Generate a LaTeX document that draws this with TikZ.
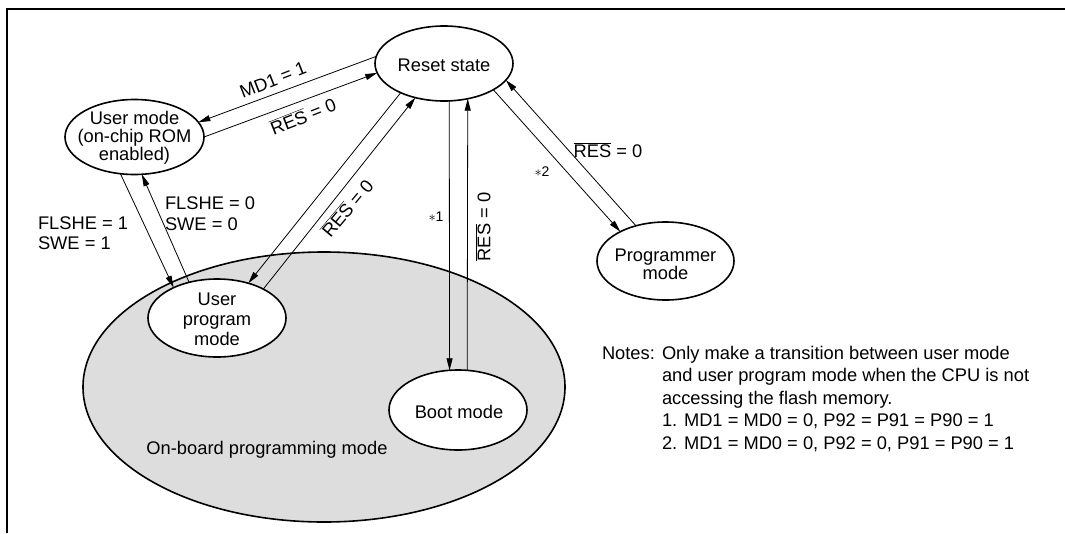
\documentclass[tikz,border=0pt]{standalone}
\usepackage{fontspec}
\setmainfont{Liberation Sans}
\usetikzlibrary{shapes.geometric,arrows.meta}
\definecolor{boardgray}{RGB}{221,221,221}
\newcommand{\resbar}{$\overline{\mbox{RES}}$}
\begin{document}
\begin{tikzpicture}[x=1pt,y=-1pt,
  every node/.style={inner sep=0pt, outer sep=0pt},
  txt/.style={font=\fontsize{18.3}{17}\selectfont, align=center},
  small/.style={font=\fontsize{14}{14}\selectfont},
  state/.style={ellipse, draw, line width=1.6pt, fill=white},
  arr/.style={line width=0.8pt, -{Triangle[length=12pt,width=6pt]}},
]
\useasboundingbox (0,0) rectangle (1065,533);
\draw[line width=2pt] (6.7,533) -- (6.7,9) -- (1065,9);

% on-board programming region
\node[ellipse, draw, line width=1.6pt, fill=boardgray, minimum width=482pt, minimum height=270pt] (board) at (324,387) {};
\node[txt] (boardlbl) at (267,450) {On-board programming mode};

% states
\node[state, minimum width=138pt, minimum height=75pt] (reset) at (444,63.5) {};
\node[txt] (resettxt) at (444,65) {Reset state};
\node[state, minimum width=139pt, minimum height=75pt] (umode) at (134.5,137) {};
\node[txt, font=\fontsize{18.3}{18}\selectfont] (umodetxt) at (134.5,138) {User mode\\(on-chip ROM\\enabled)};
\node[state, minimum width=138pt, minimum height=78pt] (uprog) at (217,318) {};
\node[txt, font=\fontsize{18.3}{20}\selectfont] (uprogtxt) at (217,319) {User\\program\\mode};
\node[state, minimum width=138pt, minimum height=80pt] (boot) at (458,410) {};
\node[txt] (boottxt) at (459,412) {Boot mode};
\node[state, minimum width=137pt, minimum height=78pt] (prog) at (665.5,261) {};
\node[txt, font=\fontsize{18.3}{18}\selectfont] (progtxt) at (665.5,264) {Programmer\\mode};

% reset <-> user mode
\draw[arr] (reset.174) -- (umode.13);
\draw[arr] (umode.0) -- (reset.188);
\node[txt, rotate=21.5] (lmd1) at (273,80) {MD1 = 1};
\node[txt, rotate=21.5] (lres1) at (303,116) {\resbar{} = 0};

% user mode <-> user program mode
\draw[arr] (umode.249) -- (uprog.145);
\draw[arr] (uprog.128) -- (umode.281);
\node[txt, font=\fontsize{18.3}{20.5}\selectfont, align=left, anchor=west] (lfl1) at (38,233) {FLSHE = 1\\SWE = 1};
\node[txt, font=\fontsize{18.3}{20.5}\selectfont, align=left, anchor=west] (lfl0) at (165,213.5) {FLSHE = 0\\SWE = 0};

% reset <-> user program mode
\draw[arr] (reset.214) -- (uprog.48);
\draw[arr] (uprog.32) -- (reset.230);
\node[txt, rotate=50] (lres2) at (347,208) {\resbar{} = 0};

% reset <-> boot
\draw[arr] (reset.-82.3) -- (boot.102.8);
\draw[arr] (boot.77) -- (reset.-56.6);
\node[small] (lst1) at (436,217) {$\ast$1};
\node[txt, rotate=90] (lres3) at (483,227) {\resbar{} = 0};

% reset <-> programmer
\draw[arr] (reset.-28) -- (prog.147);
\draw[arr] (prog.130) -- (reset.-15);
\node[small] (lst2) at (542,172) {$\ast$2};
\node[txt] (lres4) at (608,150) {\resbar{} = 0};

% notes
\node[txt, anchor=base west] (notes) at (602,359) {Notes:};
\node[txt, anchor=base west] (n1) at (662,359) {Only make a transition between user mode};
\node[txt, anchor=base west] (n2) at (662,381.6) {and user program mode when the CPU is not};
\node[txt, anchor=base west] (n3) at (662,404.2) {accessing the flash memory.};
\node[txt, anchor=base west] (n4) at (662,426.8) {1. MD1 = MD0 = 0, P92 = P91 = P90 = 1};
\node[txt, anchor=base west] (n5) at (662,449.4) {2. MD1 = MD0 = 0, P92 = 0, P91 = P90 = 1};
\end{tikzpicture}
\end{document}
